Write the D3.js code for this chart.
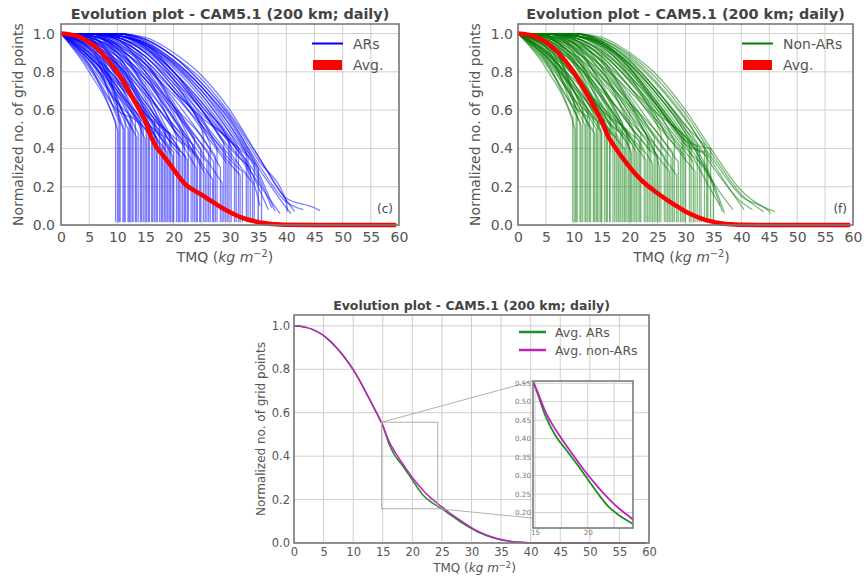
<!DOCTYPE html>
<html>
<head>
<meta charset="utf-8">
<script src="https://cdn.jsdelivr.net/npm/d3@7"></script>
<style>
  body { margin: 0; background: #fff; }
  svg { display: block; font-family: "DejaVu Sans", sans-serif; }
</style>
</head>
<body>
<svg id="chart"></svg>
<script>
// TMQ grid for the averaged curves
var tmqGrid = [0, 1, 2, 3, 4, 5, 6, 7, 8, 9, 10, 11, 12, 13, 14, 15, 16, 17, 18, 19, 20,
	21, 22, 23, 24, 25, 26, 27, 28, 29, 30, 31, 32, 33, 34, 35, 36, 37, 38, 39, 40, 45, 50, 55, 59.5];

var arAvg = [1.000, 0.998, 0.993, 0.985, 0.972, 0.955, 0.932, 0.905, 0.874, 0.838, 0.798,
	0.752, 0.702, 0.650, 0.597, 0.540, 0.460, 0.405, 0.368, 0.330, 0.290,
	0.250, 0.215, 0.192, 0.174, 0.157, 0.138, 0.119, 0.100, 0.082, 0.066,
	0.052, 0.040, 0.030, 0.022, 0.015, 0.010, 0.006, 0.004, 0.002, 0.001, 0, 0, 0, 0];

var nonArAvg = [1.000, 0.998, 0.993, 0.985, 0.972, 0.955, 0.932, 0.905, 0.874, 0.838, 0.798,
	0.752, 0.702, 0.650, 0.597, 0.542, 0.472, 0.422, 0.380, 0.340, 0.302,
	0.268, 0.237, 0.210, 0.188, 0.166, 0.145, 0.125, 0.106, 0.088, 0.071,
	0.056, 0.043, 0.032, 0.023, 0.016, 0.010, 0.006, 0.004, 0.002, 0.001, 0, 0, 0, 0];

// individual events: [last TMQ, value at 5, 10, 15, ... (below last), value at last TMQ]
var arRuns = [
	[9.7, 0.84, 0.54], [10.1, 0.80, 0.50, 0.49], [10.5, 0.88, 0.60, 0.56], [11.0, 0.83, 0.58, 0.52],
	[11.4, 0.90, 0.66, 0.55], [11.9, 0.86, 0.62, 0.50], [12.3, 0.92, 0.70, 0.57], [12.8, 0.87, 0.64, 0.50],
	[13.2, 0.91, 0.72, 0.55], [13.7, 0.89, 0.68, 0.48], [14.1, 0.93, 0.75, 0.55], [14.6, 0.88, 0.70, 0.50],
	[15.2, 0.92, 0.74, 0.52, 0.50], [15.7, 0.95, 0.80, 0.58, 0.52], [16.1, 0.90, 0.72, 0.50, 0.46],
	[16.6, 0.96, 0.84, 0.62, 0.55], [17.1, 0.93, 0.78, 0.56, 0.45], [17.5, 0.97, 0.86, 0.66, 0.52],
	[18.0, 0.94, 0.80, 0.58, 0.44], [18.5, 0.98, 0.88, 0.68, 0.50], [19.0, 0.95, 0.82, 0.60, 0.42],
	[19.5, 0.97, 0.85, 0.64, 0.45], [20.0, 0.93, 0.78, 0.55, 0.38], [20.5, 0.98, 0.90, 0.72, 0.50, 0.46],
	[21.0, 0.96, 0.84, 0.64, 0.44, 0.40], [21.6, 0.99, 0.92, 0.76, 0.55, 0.48], [22.1, 0.95, 0.83, 0.62, 0.42, 0.36],
	[22.6, 0.99, 0.93, 0.80, 0.58, 0.44], [23.1, 0.97, 0.88, 0.70, 0.50, 0.38], [23.7, 1.00, 0.95, 0.84, 0.64, 0.45],
	[24.2, 0.98, 0.90, 0.74, 0.52, 0.36], [24.8, 0.99, 0.94, 0.82, 0.60, 0.40],
	[25.3, 1.00, 0.96, 0.86, 0.70, 0.50, 0.46], [25.9, 0.98, 0.91, 0.76, 0.56, 0.36, 0.33],
	[26.5, 1.00, 0.97, 0.88, 0.72, 0.52, 0.42], [27.1, 0.99, 0.93, 0.80, 0.62, 0.42, 0.33],
	[27.7, 1.00, 0.98, 0.90, 0.76, 0.56, 0.40], [28.3, 0.99, 0.95, 0.84, 0.66, 0.46, 0.30],
	[28.9, 1.00, 0.98, 0.92, 0.78, 0.60, 0.43], [29.5, 1.00, 0.96, 0.86, 0.70, 0.50, 0.32],
	[30.2, 1.00, 0.99, 0.93, 0.80, 0.62, 0.42, 0.40], [30.8, 1.00, 0.98, 0.90, 0.74, 0.55, 0.36, 0.33],
	[31.5, 1.00, 0.99, 0.94, 0.82, 0.66, 0.46, 0.40], [32.2, 1.00, 0.97, 0.88, 0.72, 0.54, 0.34, 0.28],
	[32.9, 1.00, 1.00, 0.96, 0.85, 0.70, 0.50, 0.38], [33.6, 1.00, 0.98, 0.91, 0.78, 0.60, 0.40, 0.30],
	[34.3, 1.00, 0.99, 0.95, 0.84, 0.68, 0.48, 0.32], [35.0, 1.00, 1.00, 0.97, 0.88, 0.74, 0.56, 0.30],
	[35.6, 1.00, 0.99, 0.93, 0.80, 0.64, 0.44, 0.24, 0.20],
	[36.8, 1.00, 0.99, 0.94, 0.83, 0.68, 0.48, 0.20, 0.08], [38.0, 1.00, 1.00, 0.96, 0.86, 0.72, 0.54, 0.28, 0.07],
	[38.9, 1.00, 0.99, 0.92, 0.80, 0.64, 0.45, 0.22, 0.06],
	[40.2, 1.00, 1.00, 0.97, 0.88, 0.74, 0.57, 0.34, 0.12, 0.07], [40.8, 1.00, 0.99, 0.95, 0.84, 0.70, 0.52, 0.30, 0.09, 0.06],
	[41.5, 1.00, 1.00, 0.98, 0.90, 0.78, 0.60, 0.36, 0.13, 0.07], [43.0, 1.00, 0.99, 0.94, 0.85, 0.72, 0.55, 0.32, 0.12, 0.08],
	[46.0, 1.00, 1.00, 0.97, 0.88, 0.76, 0.58, 0.36, 0.14, 0.09, 0.075],
	[10.3, 0.97, 0.62, 0.55], [11.2, 0.95, 0.56, 0.50], [12.1, 0.98, 0.66, 0.52], [12.6, 0.82, 0.60, 0.56],
	[13.4, 0.96, 0.64, 0.46], [14.3, 0.84, 0.64, 0.52], [14.9, 0.98, 0.76, 0.45],
	[15.5, 0.86, 0.68, 0.50, 0.48], [16.3, 0.99, 0.84, 0.52, 0.44], [16.9, 0.88, 0.72, 0.52, 0.46],
	[17.8, 1.00, 0.88, 0.56, 0.40], [18.3, 0.86, 0.70, 0.54, 0.46], [18.8, 0.99, 0.82, 0.54, 0.38],
	[19.3, 0.90, 0.76, 0.58, 0.48], [19.8, 1.00, 0.90, 0.60, 0.36],
	[20.8, 0.92, 0.76, 0.58, 0.42, 0.40], [21.3, 1.00, 0.94, 0.70, 0.40, 0.36], [21.9, 0.88, 0.74, 0.60, 0.46, 0.42],
	[22.4, 1.00, 0.92, 0.72, 0.44, 0.34], [23.4, 0.94, 0.84, 0.68, 0.52, 0.42], [24.0, 1.00, 0.97, 0.80, 0.50, 0.30],
	[24.6, 0.95, 0.86, 0.70, 0.50, 0.34],
	[25.6, 1.00, 0.94, 0.78, 0.56, 0.30, 0.27], [26.2, 0.96, 0.88, 0.76, 0.60, 0.42, 0.38],
	[26.9, 1.00, 0.98, 0.86, 0.62, 0.32, 0.24], [27.4, 0.97, 0.90, 0.78, 0.62, 0.46, 0.36],
	[28.6, 1.00, 0.97, 0.84, 0.62, 0.38, 0.22], [29.2, 0.98, 0.92, 0.82, 0.68, 0.52, 0.38],
	[29.8, 1.00, 1.00, 0.94, 0.80, 0.62, 0.44],
	[31.1, 0.99, 0.94, 0.84, 0.70, 0.56, 0.44, 0.40], [31.8, 1.00, 1.00, 0.93, 0.76, 0.52, 0.32, 0.26],
	[33.2, 1.00, 0.97, 0.88, 0.74, 0.58, 0.44, 0.36], [34.0, 1.00, 1.00, 0.95, 0.80, 0.60, 0.38, 0.22],
	[35.3, 1.00, 0.98, 0.90, 0.76, 0.60, 0.42, 0.14, 0.10], [37.4, 1.00, 0.99, 0.95, 0.86, 0.72, 0.52, 0.26, 0.09]
];

var nonArRuns = [
	[9.8, 0.86, 0.56], [10.2, 0.82, 0.52, 0.50], [10.6, 0.89, 0.64, 0.60], [11.1, 0.85, 0.60, 0.54],
	[11.6, 0.91, 0.70, 0.60], [12.0, 0.87, 0.64, 0.52], [12.5, 0.93, 0.74, 0.60], [13.0, 0.88, 0.66, 0.50],
	[13.5, 0.92, 0.72, 0.56], [14.0, 0.90, 0.70, 0.50], [14.5, 0.94, 0.78, 0.58], [15.0, 0.89, 0.70, 0.48],
	[15.5, 0.95, 0.80, 0.58, 0.55], [16.0, 0.91, 0.74, 0.52, 0.47], [16.5, 0.97, 0.86, 0.66, 0.58],
	[17.0, 0.93, 0.78, 0.56, 0.46], [17.6, 0.98, 0.88, 0.68, 0.54], [18.1, 0.94, 0.81, 0.60, 0.45],
	[18.7, 0.99, 0.90, 0.72, 0.53], [19.2, 0.96, 0.84, 0.63, 0.44], [19.8, 0.98, 0.88, 0.68, 0.46],
	[20.3, 0.94, 0.80, 0.58, 0.40, 0.38], [20.9, 0.99, 0.92, 0.75, 0.54, 0.48], [21.5, 0.96, 0.85, 0.66, 0.46, 0.40],
	[22.0, 1.00, 0.93, 0.78, 0.58, 0.48], [22.6, 0.97, 0.86, 0.67, 0.47, 0.38], [23.2, 1.00, 0.95, 0.82, 0.62, 0.46],
	[23.8, 0.98, 0.89, 0.72, 0.52, 0.38], [24.4, 1.00, 0.96, 0.85, 0.66, 0.46], [25.0, 0.99, 0.92, 0.77, 0.56, 0.36],
	[25.6, 1.00, 0.97, 0.88, 0.72, 0.52, 0.48], [26.2, 0.99, 0.94, 0.80, 0.60, 0.40, 0.36],
	[26.8, 1.00, 0.98, 0.90, 0.75, 0.56, 0.45], [27.4, 1.00, 0.95, 0.83, 0.64, 0.45, 0.35],
	[28.0, 1.00, 0.99, 0.92, 0.78, 0.60, 0.44], [28.7, 1.00, 0.96, 0.86, 0.68, 0.48, 0.33],
	[29.4, 1.00, 0.99, 0.94, 0.81, 0.63, 0.45], [30.0, 1.00, 0.97, 0.88, 0.72, 0.52, 0.36],
	[30.7, 1.00, 1.00, 0.95, 0.83, 0.66, 0.46, 0.43], [31.4, 1.00, 0.98, 0.90, 0.75, 0.56, 0.38, 0.33],
	[32.1, 1.00, 0.99, 0.95, 0.84, 0.68, 0.50, 0.42], [32.8, 1.00, 0.98, 0.91, 0.77, 0.58, 0.40, 0.32],
	[33.4, 1.00, 1.00, 0.96, 0.86, 0.70, 0.52, 0.42], [34.0, 1.00, 0.99, 0.93, 0.80, 0.62, 0.44, 0.36],
	[35.0, 1.00, 0.99, 0.94, 0.82, 0.64, 0.44, 0.22],
	[36.2, 1.00, 0.99, 0.93, 0.80, 0.62, 0.42, 0.16, 0.10], [37.0, 1.00, 1.00, 0.96, 0.86, 0.70, 0.50, 0.22, 0.06],
	[38.5, 1.00, 0.99, 0.95, 0.84, 0.68, 0.48, 0.22, 0.08],
	[40.5, 1.00, 1.00, 0.97, 0.88, 0.74, 0.56, 0.32, 0.10, 0.08], [42.0, 1.00, 0.99, 0.95, 0.85, 0.70, 0.52, 0.30, 0.12, 0.08],
	[44.0, 1.00, 1.00, 0.97, 0.89, 0.76, 0.58, 0.36, 0.16, 0.07],
	[45.2, 1.00, 0.99, 0.96, 0.87, 0.73, 0.55, 0.34, 0.15, 0.07, 0.06],
	[46.0, 1.00, 1.00, 0.98, 0.90, 0.78, 0.60, 0.38, 0.18, 0.08, 0.07],
	[10.4, 0.96, 0.64, 0.58], [11.3, 0.93, 0.60, 0.52], [12.2, 0.98, 0.70, 0.56], [12.8, 0.84, 0.62, 0.56],
	[13.7, 0.95, 0.66, 0.48], [14.2, 0.86, 0.66, 0.54], [14.8, 0.99, 0.78, 0.50],
	[15.8, 0.88, 0.70, 0.52, 0.50], [16.4, 0.99, 0.86, 0.56, 0.48], [17.3, 0.90, 0.74, 0.54, 0.46],
	[17.9, 1.00, 0.90, 0.60, 0.44], [18.4, 0.88, 0.72, 0.56, 0.48], [19.0, 0.99, 0.84, 0.56, 0.40],
	[19.5, 0.91, 0.78, 0.60, 0.50],
	[20.1, 1.00, 0.92, 0.62, 0.40, 0.38], [20.6, 0.93, 0.78, 0.60, 0.44, 0.42], [21.2, 1.00, 0.95, 0.72, 0.44, 0.38],
	[21.8, 0.90, 0.76, 0.62, 0.48, 0.44], [22.9, 1.00, 0.93, 0.74, 0.46, 0.34], [23.5, 0.95, 0.85, 0.70, 0.54, 0.44],
	[24.1, 1.00, 0.97, 0.82, 0.52, 0.32], [24.7, 0.96, 0.87, 0.72, 0.52, 0.36],
	[25.3, 1.00, 0.95, 0.80, 0.58, 0.34, 0.30], [26.5, 0.97, 0.89, 0.77, 0.62, 0.44, 0.38],
	[27.1, 1.00, 0.98, 0.87, 0.64, 0.36, 0.28], [27.7, 0.98, 0.91, 0.80, 0.64, 0.48, 0.38],
	[28.4, 1.00, 0.97, 0.85, 0.64, 0.40, 0.26], [29.1, 0.98, 0.93, 0.83, 0.70, 0.54, 0.40],
	[29.7, 1.00, 1.00, 0.95, 0.82, 0.64, 0.46],
	[31.0, 0.99, 0.95, 0.86, 0.72, 0.58, 0.46, 0.42], [31.7, 1.00, 1.00, 0.94, 0.78, 0.54, 0.34, 0.28],
	[32.5, 1.00, 0.97, 0.89, 0.76, 0.60, 0.46, 0.40], [33.8, 1.00, 1.00, 0.96, 0.82, 0.62, 0.42, 0.38],
	[34.5, 1.00, 0.98, 0.91, 0.78, 0.62, 0.44, 0.40], [36.6, 1.00, 0.99, 0.94, 0.84, 0.68, 0.48, 0.20, 0.07]
];
var dropFloor = 0.015;

var xTicks = [0, 5, 10, 15, 20, 25, 30, 35, 40, 45, 50, 55, 60];
var yTicks = [0, 0.2, 0.4, 0.6, 0.8, 1.0];
var insetXTicks = [15, 20];
var insetXGrid = [15, 17.5, 20, 22.5];
var insetYTicks = [0.20, 0.25, 0.30, 0.35, 0.40, 0.45, 0.50, 0.55];
var insetXRange = [14.8, 24.3];
var insetYRange = [0.158, 0.556];

var titleText = "Evolution plot - CAM5.1 (200 km; daily)";
var yLabelText = "Normalized no. of grid points";

var svg = d3.select("#chart").attr("width", 867).attr("height", 579);
svg.append("rect").attr("width", 867).attr("height", 579).attr("fill", "#fff");

function makeAxes(box, fs, opt) {
	var x = d3.scaleLinear().domain([0, 60]).range([box.left, box.right]),
		y = d3.scaleLinear().domain([0, 1.05]).range([box.bottom, box.top]),
		g = svg.append("g");

	g.selectAll(".gx").data(xTicks).enter().append("line")
		.attr("x1", function(d) { return x(d); }).attr("x2", function(d) { return x(d); })
		.attr("y1", box.top).attr("y2", box.bottom)
		.attr("stroke", "#cfcfcf").attr("stroke-width", 1);
	g.selectAll(".gy").data(yTicks).enter().append("line")
		.attr("x1", box.left).attr("x2", box.right)
		.attr("y1", function(d) { return y(d); }).attr("y2", function(d) { return y(d); })
		.attr("stroke", "#cfcfcf").attr("stroke-width", 1);

	var ax = g.append("g")
		.attr("transform", "translate(0," + box.bottom + ")")
		.call(d3.axisBottom(x).tickValues(xTicks).tickSize(0).tickPadding(opt.xPad));
	var ay = g.append("g")
		.attr("transform", "translate(" + box.left + ",0)")
		.call(d3.axisLeft(y).tickValues(yTicks).tickSize(0).tickPadding(opt.yPad).tickFormat(d3.format(".1f")));
	[ax, ay].forEach(function(a) {
		a.select(".domain").remove();
		a.attr("font-family", "DejaVu Sans").attr("font-size", fs);
		a.selectAll("text").attr("fill", "#555");
	});

	svg.append("text")
		.attr("x", (box.left + box.right) / 2).attr("y", box.top - opt.titleGap)
		.attr("text-anchor", "middle").attr("font-weight", "bold")
		.attr("font-size", opt.titleFs).attr("fill", "#444")
		.text(titleText);

	var xl = svg.append("text")
		.attr("x", (box.left + box.right) / 2 + opt.xlShift).attr("y", opt.xlY)
		.attr("text-anchor", "middle").attr("font-size", opt.labelFs).attr("fill", "#555");
	xl.append("tspan").text("TMQ (");
	xl.append("tspan").attr("font-style", "italic").text("kg m");
	xl.append("tspan").attr("font-size", opt.labelFs * 0.7).attr("dy", -opt.labelFs * 0.35).text("\u22122");
	xl.append("tspan").attr("dy", opt.labelFs * 0.35).text(")");

	svg.append("text")
		.attr("transform", "translate(" + opt.ylX + "," + (box.top + box.bottom) / 2 + ") rotate(-90)")
		.attr("text-anchor", "middle").attr("font-size", opt.labelFs).attr("fill", "#555")
		.text(yLabelText);

	return {x: x, y: y};
}

function drawFrame(box) {
	svg.append("rect")
		.attr("x", box.left).attr("y", box.top)
		.attr("width", box.right - box.left).attr("height", box.bottom - box.top)
		.attr("fill", "none").attr("stroke", "#7a7a7a").attr("stroke-width", 1.6);
}

function runPath(x, y, r) {
	var end = r[0], vals = r.slice(1), pts = [[0, 1]];
	vals.forEach(function(v, i) {
		pts.push([i < vals.length - 1 ? 5 * (i + 1) : end, v]);
	});
	var p = d3.line()
		.x(function(d) { return x(d[0]); })
		.y(function(d) { return y(d[1]); })
		.curve(d3.curveMonotoneX)(pts);
	if (vals[vals.length - 1] > 0.12) p += "L" + x(end) + "," + y(dropFloor);
	return p;
}

function avgLine(x, y) {
	return d3.line()
		.x(function(d) { return x(d[0]); })
		.y(function(d) { return y(d[1]); })
		.curve(d3.curveMonotoneX);
}

function topPanel(box, runs, color, opacity, legendName, tag, opt) {
	var s = makeAxes(box, 14, opt);
	svg.append("g").selectAll("path").data(runs).enter().append("path")
		.attr("d", function(r) { return runPath(s.x, s.y, r); })
		.attr("fill", "none").attr("stroke", color)
		.attr("stroke-opacity", opacity).attr("stroke-width", 1.3);
	svg.append("path")
		.attr("d", avgLine(s.x, s.y)(tmqGrid.map(function(t, i) { return [t, opt.avg[i]]; })))
		.attr("fill", "none").attr("stroke", "#ff0000").attr("stroke-width", 4.5);

	// legend
	var lx = box.right - opt.legRight;
	svg.append("line").attr("x1", lx).attr("x2", lx + 31).attr("y1", 43.5).attr("y2", 43.5)
		.attr("stroke", color).attr("stroke-width", 2);
	svg.append("rect").attr("x", lx + 1).attr("y", 60).attr("width", 29).attr("height", 10)
		.attr("fill", "#ff0000");
	svg.append("text").attr("x", lx + 41).attr("y", 48.5).attr("font-size", 14).attr("fill", "#555").text(legendName);
	svg.append("text").attr("x", lx + 41).attr("y", 70).attr("font-size", 14).attr("fill", "#555").text("Avg.");

	svg.append("text").attr("x", box.right - 6).attr("y", box.bottom - 12)
		.attr("text-anchor", "end").attr("font-size", 12).attr("fill", "#444").text(tag);
	drawFrame(box);
}

var p1 = {left: 61, right: 399, top: 24, bottom: 225},
	p2 = {left: 518, right: 853, top: 24, bottom: 225},
	p3 = {left: 294, right: 649, top: 315, bottom: 543};

topPanel(p1, arRuns, "#0000ff", 0.5, "ARs", "(c)",
	{xPad: 6.8, yPad: 6, titleGap: 5, titleFs: 14.4, labelFs: 14, xlShift: -5, xlY: 262, ylX: 23, avg: arAvg, legRight: 87});
topPanel(p2, nonArRuns, "#007a00", 0.5, "Non-ARs", "(f)",
	{xPad: 6.8, yPad: 5, titleGap: 5, titleFs: 14.4, labelFs: 14, xlShift: -4, xlY: 262, ylX: 480, avg: nonArAvg, legRight: 111});

// bottom panel: both averages plus zoomed inset
var s3 = makeAxes(p3, 11.5, {xPad: 5.3, yPad: 4, titleGap: 5, titleFs: 12.5, labelFs: 12, xlShift: 3, xlY: 572, ylX: 265});
var arPts = tmqGrid.map(function(t, i) { return [t, arAvg[i]]; }),
	nonArPts = tmqGrid.map(function(t, i) { return [t, nonArAvg[i]]; });
svg.append("path").attr("d", avgLine(s3.x, s3.y)(arPts))
	.attr("fill", "none").attr("stroke", "#1f8f1f").attr("stroke-width", 1.5);
svg.append("path").attr("d", avgLine(s3.x, s3.y)(nonArPts))
	.attr("fill", "none").attr("stroke", "#c020c0").attr("stroke-width", 1.5);

var inset = {left: 533, right: 633, top: 381, bottom: 528};
var rx0 = s3.x(insetXRange[0]), rx1 = s3.x(insetXRange[1]),
	ry0 = s3.y(insetYRange[1]), ry1 = s3.y(insetYRange[0]);
svg.append("rect").attr("x", rx0).attr("y", ry0).attr("width", rx1 - rx0).attr("height", ry1 - ry0)
	.attr("fill", "none").attr("stroke", "#b0b0b0").attr("stroke-width", 1);
svg.append("line").attr("x1", rx0).attr("y1", ry0).attr("x2", inset.left).attr("y2", inset.top)
	.attr("stroke", "#b0b0b0").attr("stroke-width", 1);
svg.append("line").attr("x1", rx1).attr("y1", ry1).attr("x2", inset.right).attr("y2", inset.bottom)
	.attr("stroke", "#b0b0b0").attr("stroke-width", 1);

// legend
[["Avg. ARs", "#1f8f1f", 332], ["Avg. non-ARs", "#c020c0", 350]].forEach(function(l) {
	svg.append("line").attr("x1", 519).attr("x2", 546).attr("y1", l[2]).attr("y2", l[2])
		.attr("stroke", l[1]).attr("stroke-width", 2.5);
	svg.append("text").attr("x", 555).attr("y", l[2] + 4.5).attr("font-size", 12.5).attr("fill", "#555").text(l[0]);
});
drawFrame(p3);

// inset axes
var ix = d3.scaleLinear().domain(insetXRange).range([inset.left, inset.right]),
	iy = d3.scaleLinear().domain(insetYRange).range([inset.bottom, inset.top]);
svg.append("defs").append("clipPath").attr("id", "insetClip")
	.append("rect").attr("x", inset.left).attr("y", inset.top)
	.attr("width", inset.right - inset.left).attr("height", inset.bottom - inset.top);
svg.append("rect").attr("x", inset.left).attr("y", inset.top)
	.attr("width", inset.right - inset.left).attr("height", inset.bottom - inset.top).attr("fill", "#fff");
var ig = svg.append("g").attr("clip-path", "url(#insetClip)");
ig.selectAll(".igx").data(insetXGrid).enter().append("line")
	.attr("x1", function(d) { return ix(d); }).attr("x2", function(d) { return ix(d); })
	.attr("y1", inset.top).attr("y2", inset.bottom).attr("stroke", "#cfcfcf");
ig.selectAll(".igy").data(insetYTicks).enter().append("line")
	.attr("x1", inset.left).attr("x2", inset.right)
	.attr("y1", function(d) { return iy(d); }).attr("y2", function(d) { return iy(d); }).attr("stroke", "#cfcfcf");
ig.append("path").attr("d", avgLine(ix, iy)(arPts))
	.attr("fill", "none").attr("stroke", "#1f8f1f").attr("stroke-width", 1.8);
ig.append("path").attr("d", avgLine(ix, iy)(nonArPts))
	.attr("fill", "none").attr("stroke", "#c020c0").attr("stroke-width", 1.8);
svg.append("rect").attr("x", inset.left).attr("y", inset.top)
	.attr("width", inset.right - inset.left).attr("height", inset.bottom - inset.top)
	.attr("fill", "none").attr("stroke", "#7a7a7a").attr("stroke-width", 1.6);

var iax = svg.append("g").attr("transform", "translate(0," + inset.bottom + ")")
	.call(d3.axisBottom(ix).tickValues(insetXTicks).tickSize(0).tickPadding(2));
var iay = svg.append("g").attr("transform", "translate(" + inset.left + ",0)")
	.call(d3.axisLeft(iy).tickValues(insetYTicks).tickSize(0).tickPadding(2).tickFormat(d3.format(".2f")));
[iax, iay].forEach(function(a) {
	a.select(".domain").remove();
	a.attr("font-family", "DejaVu Sans").attr("font-size", 7.2);
	a.selectAll("text").attr("fill", "#777");
});
</script>
</body>
</html>
